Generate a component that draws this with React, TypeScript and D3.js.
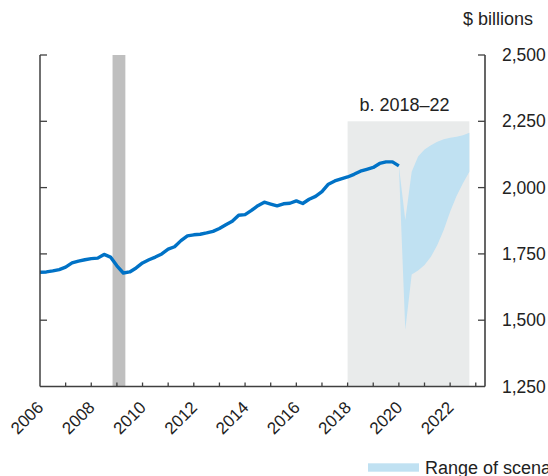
import React from "react"
import * as d3 from "d3"

const WIDTH = 548
const HEIGHT = 476

// quarterly history, 2006:Q1 through 2020:Q1
const historyStart = 2006
const historyValues = [
  1681, 1682, 1686, 1691, 1700, 1716, 1723, 1728, 1732, 1734, 1748, 1738,
  1705, 1678, 1682, 1697, 1716, 1728, 1738, 1750, 1768, 1777, 1800, 1818,
  1822, 1824, 1829, 1835, 1846, 1860, 1873, 1896, 1898, 1914, 1932, 1945,
  1938, 1931, 1939, 1941, 1950, 1940, 1956, 1967, 1985, 2013, 2025, 2033,
  2040, 2050, 2062, 2069, 2076, 2091, 2097, 2097, 2082,
]

// scenario range, 2020:Q1 through 2022:Q4
const scenarioStart = 2020
const scenarioLow = [
  2082, 1463, 1672, 1687, 1708, 1739, 1784, 1840, 1909, 1968, 2016, 2060,
]
const scenarioHigh = [
  2082, 1878, 2060, 2117, 2144, 2160, 2173, 2182, 2188, 2192, 2197, 2207,
]

const recession = [2008.83, 2009.33]
const panelYears = [2018, 2022.75]
const panelTop = 2250
const panelTitle = "b. 2018–22"

const yTicks = [1250, 1500, 1750, 2000, 2250, 2500]
const xTickYears = d3.range(2006, 2024)
const xLabelYears = [2006, 2008, 2010, 2012, 2014, 2016, 2018, 2020, 2022]

const unitLabel = "$ billions"
const legendLabel = "Range of scenarios"

const FONT = "'Liberation Sans', Arial, sans-serif"
const TEXT = "#222"
const AXIS = "#404040"

export default function App() {
  const xScale = d3.scaleLinear().domain([2006, 2023.36]).range([40, 485])
  const yScale = d3.scaleLinear().domain([1250, 2500]).range([386.5, 55])

  const history = historyValues.map((v, i) => ({
    t: historyStart + i / 4,
    v,
  }))
  const scenario = scenarioLow.map((lo, i) => ({
    t: scenarioStart + i / 4,
    lo,
    hi: scenarioHigh[i],
  }))

  const line = d3
    .line<{ t: number; v: number }>()
    .x(d => xScale(d.t))
    .y(d => yScale(d.v))
  const area = d3
    .area<{ t: number; lo: number; hi: number }>()
    .x(d => xScale(d.t))
    .y0(d => yScale(d.lo))
    .y1(d => yScale(d.hi))

  const [x0, x1] = xScale.range()
  const [yBottom, yTop] = yScale.range()

  return (
    <svg
      width={WIDTH}
      height={HEIGHT}
      style={{ position: "absolute", left: 0, top: 0, fontFamily: FONT }}
    >
      {/* shaded panel b */}
      <rect
        x={xScale(panelYears[0])}
        y={yScale(panelTop)}
        width={xScale(panelYears[1]) - xScale(panelYears[0])}
        height={yBottom - yScale(panelTop)}
        fill="#e9ebeb"
      />
      <text
        x={(xScale(panelYears[0]) + xScale(panelYears[1])) / 2 - 4}
        y={yScale(panelTop) - 10}
        textAnchor="middle"
        fontSize={18}
        fill={TEXT}
      >
        {panelTitle}
      </text>

      {/* recession bar */}
      <rect
        x={xScale(recession[0])}
        y={yTop}
        width={xScale(recession[1]) - xScale(recession[0])}
        height={yBottom - yTop}
        fill="#bfbfbf"
      />

      <path
        d={line(history) ?? ""}
        fill="none"
        stroke="#0072c6"
        strokeWidth={3.4}
        strokeLinejoin="round"
      />
      <path d={area(scenario) ?? ""} fill="#c0e1f2" />

      {/* axes */}
      <line x1={x0} x2={x0} y1={yTop} y2={yBottom} stroke={AXIS} strokeWidth={1.5} />
      <line x1={x1} x2={x1} y1={yTop} y2={yBottom} stroke={AXIS} strokeWidth={1.6} />
      <line x1={x0} x2={x1} y1={yBottom} y2={yBottom} stroke={AXIS} strokeWidth={1.5} />

      {yTicks.slice(1).map(v => (
        <g key={v}>
          <line x1={x0} x2={x0 + 7} y1={yScale(v)} y2={yScale(v)} stroke={AXIS} strokeWidth={1.3} />
          <line x1={x1} x2={x1 - 7} y1={yScale(v)} y2={yScale(v)} stroke={AXIS} strokeWidth={1.3} />
        </g>
      ))}
      {yTicks.map(v => (
        <text
          key={v}
          x={502}
          y={yScale(v)}
          dy="0.35em"
          fontSize={17.5}
          fill={TEXT}
        >
          {d3.format(",")(v)}
        </text>
      ))}

      {xTickYears.slice(1).map(t => (
        <line
          key={t}
          x1={xScale(t)}
          x2={xScale(t)}
          y1={yBottom}
          y2={yBottom - 4}
          stroke={AXIS}
          strokeWidth={1.3}
        />
      ))}
      {xLabelYears.map(t => (
        <text
          key={t}
          transform={`translate(${xScale(t) + 4.5},${yBottom + 22}) rotate(-45)`}
          textAnchor="end"
          fontSize={17}
          fill={TEXT}
        >
          {t}
        </text>
      ))}

      <text x={463} y={25} fontSize={18} fill={TEXT}>
        {unitLabel}
      </text>

      {/* legend */}
      <rect x={368} y={463.3} width={51} height={8.4} fill="#c0e1f2" />
      <text x={425} y={474} fontSize={18} fill={TEXT}>
        {legendLabel}
      </text>
    </svg>
  )
}
